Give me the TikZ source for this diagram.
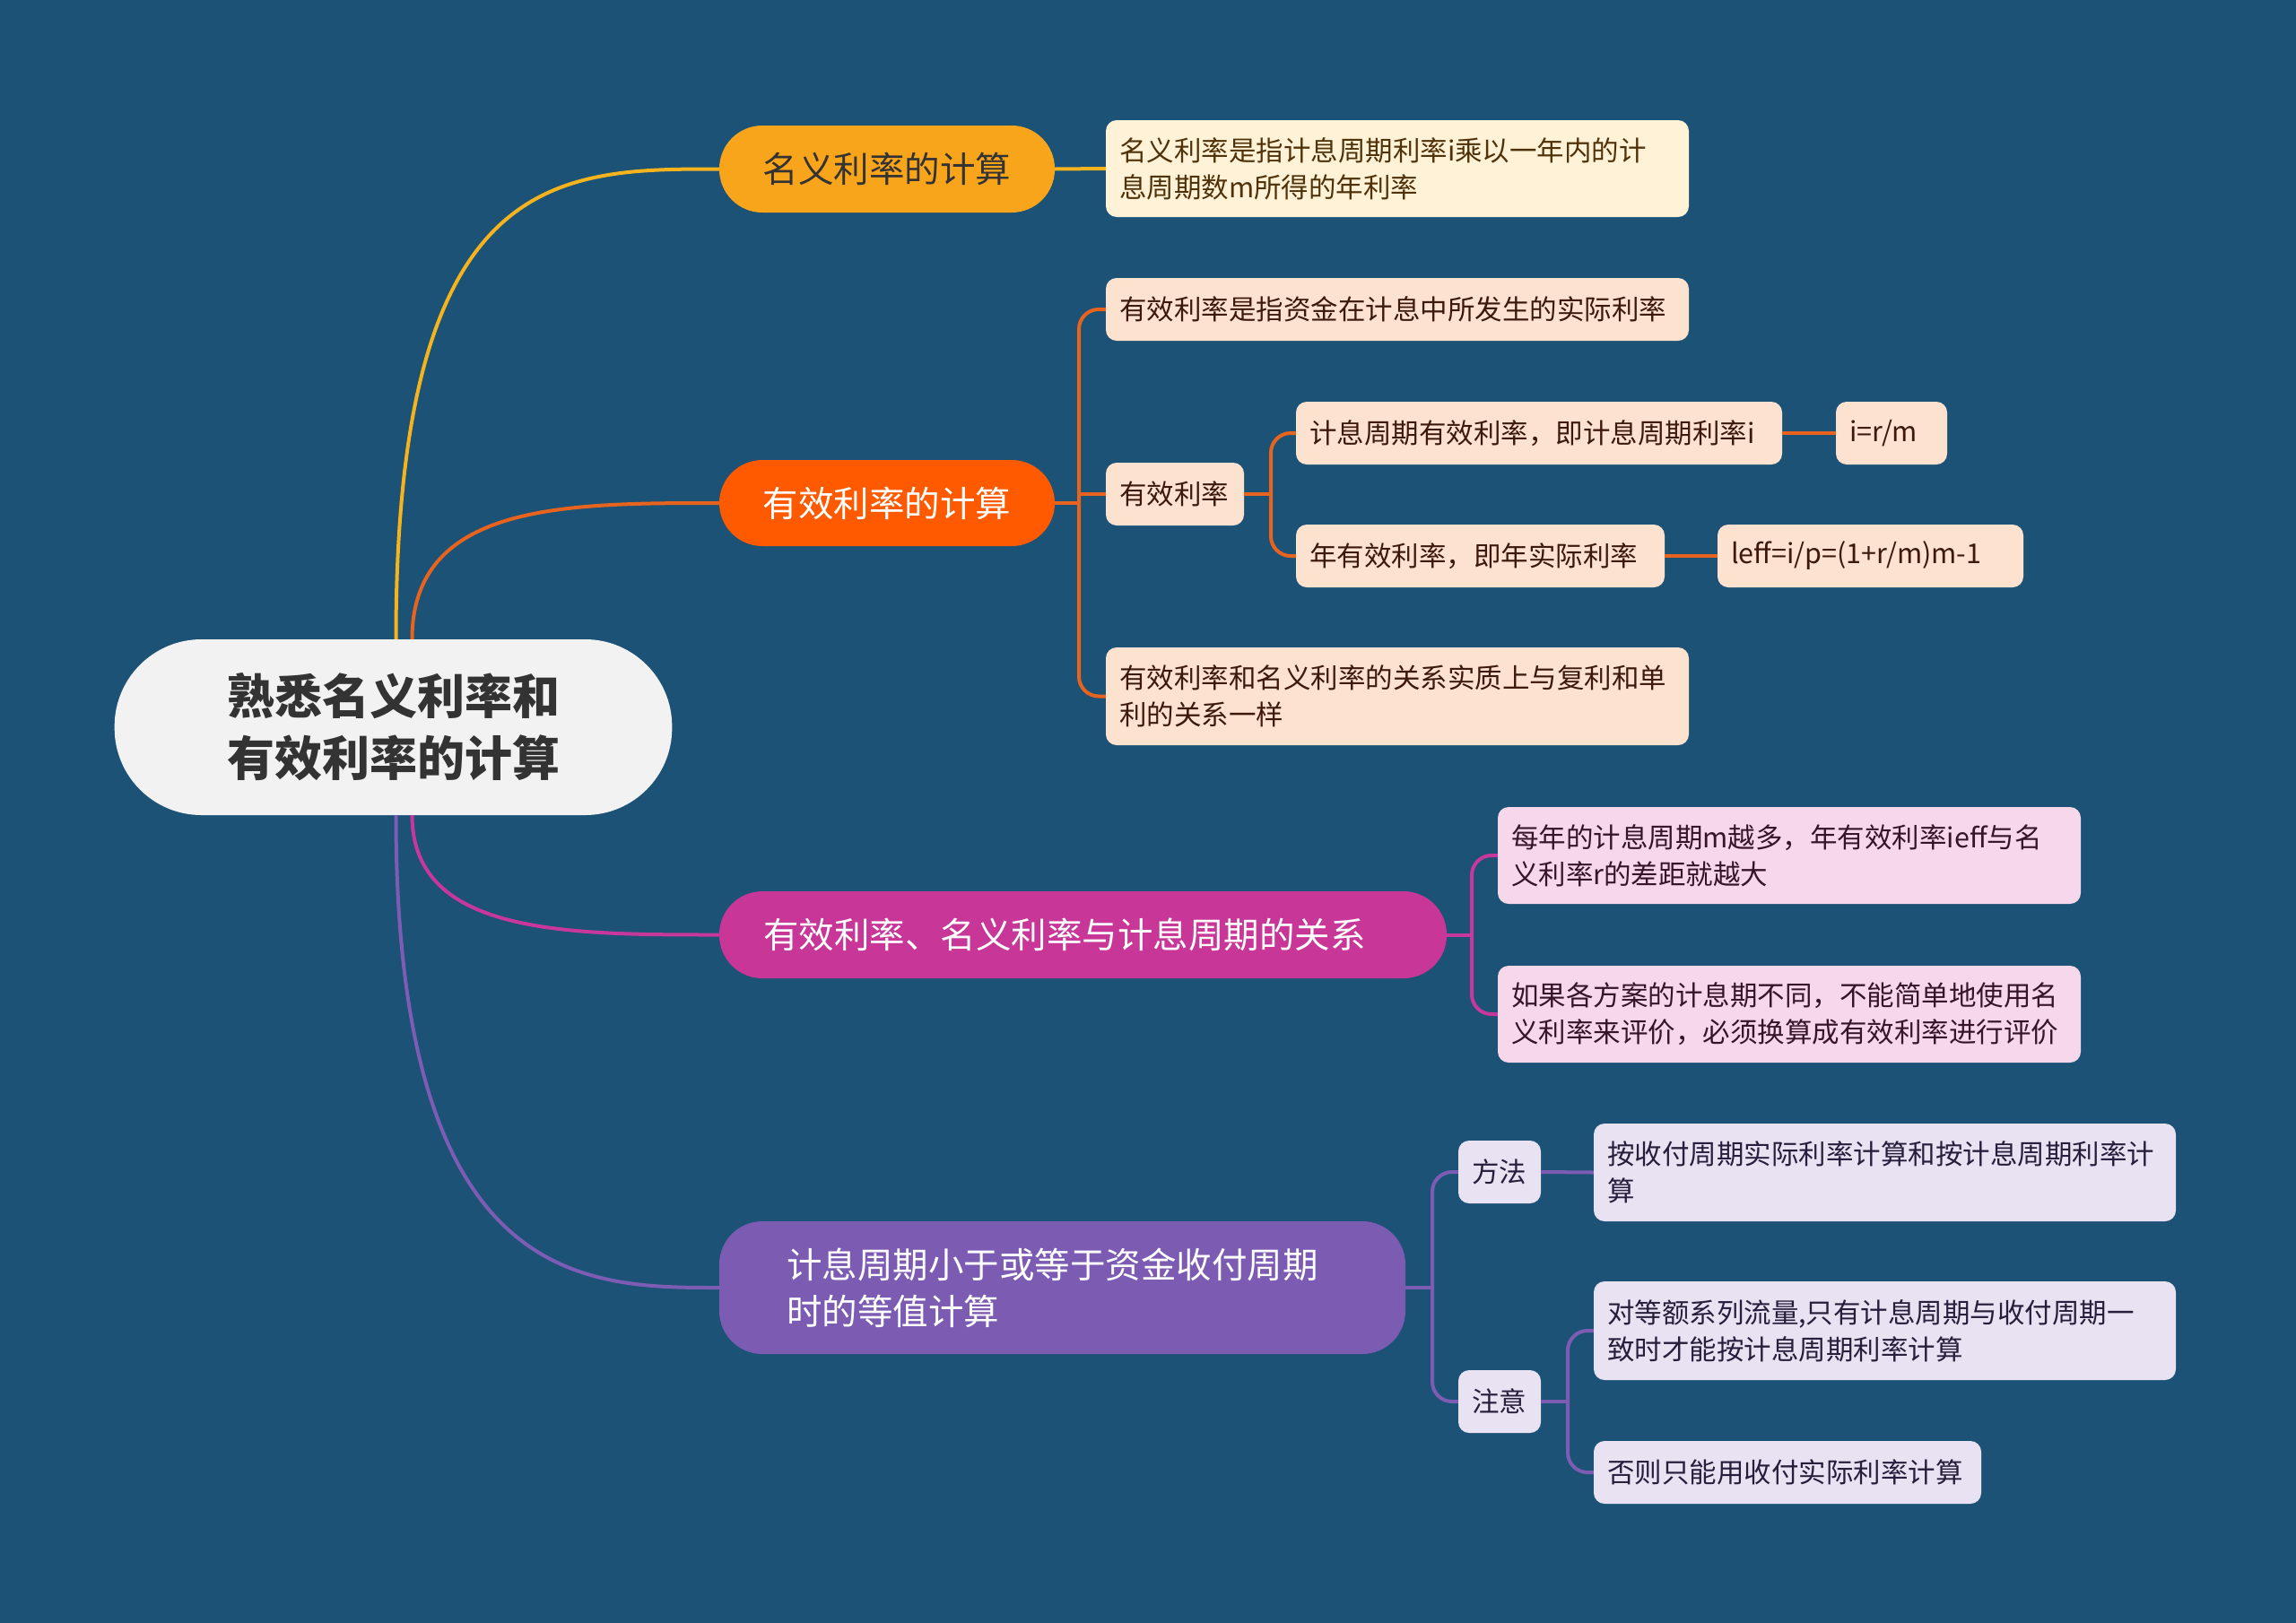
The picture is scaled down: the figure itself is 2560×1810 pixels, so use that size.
\documentclass[tikz,border=0pt]{standalone}
\usepackage{fontspec}
\setmainfont{Noto Sans CJK SC}
\definecolor{bgc}{RGB}{27,82,118}
\definecolor{rootf}{RGB}{242,242,242}
\definecolor{roott}{RGB}{51,51,51}
\definecolor{yelf}{RGB}{249,165,27}
\definecolor{yell}{RGB}{245,180,30}
\definecolor{yelc}{RGB}{255,242,214}
\definecolor{yelt}{RGB}{80,50,10}
\definecolor{orf}{RGB}{255,90,0}
\definecolor{orl}{RGB}{232,100,30}
\definecolor{orc}{RGB}{253,226,208}
\definecolor{ort}{RGB}{60,25,10}
\definecolor{mgf}{RGB}{200,54,152}
\definecolor{mgl}{RGB}{200,55,155}
\definecolor{mgc}{RGB}{246,216,234}
\definecolor{mgt}{RGB}{55,20,40}
\definecolor{puf}{RGB}{124,91,178}
\definecolor{pul}{RGB}{125,92,180}
\definecolor{puc}{RGB}{232,226,242}
\definecolor{put}{RGB}{40,30,60}
\tikzset{
  base/.style={rectangle, anchor=center, inner ysep=0pt},
  rootbox/.style={base, fill=rootf, text=roott, rounded corners=97pt, align=center,
    font=\fontsize{53}{69}\selectfont\bfseries},
  lone/.style={base, rounded corners=48pt, inner xsep=0pt, font=\fontsize{39.5}{52}\selectfont},
  ltwo/.style={base, rounded corners=12pt, inner xsep=15pt, align=left,
    font=\fontsize{30.5}{41}\selectfont},
  conn/.style={line width=4pt},
  bconn/.style={line width=4pt, rounded corners=22pt},
}
\begin{document}
\begin{tikzpicture}[x=1pt,y=-1pt]
\useasboundingbox (0,0) rectangle (2560,1810);
\fill[bgc] (0,0) rectangle (2560,1810);

% root
\node[rootbox, minimum width=615pt, minimum height=196pt, text width=615pt] (root) at (438.5,811) {熟悉名义利率和\\有效利率的计算};

% level 1
\node[lone, fill=yelf, text=roott, minimum width=374pt, minimum height=97pt, text width=374pt, align=center] (La) at (989,188.5) {名义利率的计算};
\node[lone, fill=orf, text=white, minimum width=374pt, minimum height=96pt, text width=374pt, align=center] (Lb) at (989,561) {有效利率的计算};
\node[lone, fill=mgf, text=white, minimum width=811pt, minimum height=97pt, text width=713pt, inner xsep=49pt, align=left] (Lc) at (1207.5,1042.5) {有效利率、名义利率与计息周期的关系};
\node[lone, fill=puf, text=white, minimum width=765pt, minimum height=148pt, text width=615pt, inner xsep=75pt, align=left] (Ld) at (1184.5,1436) {计息周期小于或等于资金收付周期\\时的等值计算};

% level 2 - yellow
\node[ltwo, fill=yelc, text=yelt, minimum width=650pt, minimum height=108pt, text width=620pt] (A1) at (1558,188) {名义利率是指计息周期利率i乘以一年内的计\\息周期数m所得的年利率};

% level 2 - orange
\node[ltwo, fill=orc, text=ort, minimum width=650pt, minimum height=70pt, text width=620pt] (B1) at (1558,345) {有效利率是指资金在计息中所发生的实际利率};
\node[ltwo, fill=orc, text=ort, minimum width=154pt, minimum height=70pt, text width=124pt] (B2) at (1310,551) {有效利率};
\node[ltwo, fill=orc, text=ort, minimum width=650pt, minimum height=109pt, text width=620pt] (B3) at (1558,776.5) {有效利率和名义利率的关系实质上与复利和单\\利的关系一样};
\node[ltwo, fill=orc, text=ort, minimum width=542pt, minimum height=70pt, text width=512pt] (B4) at (1716,483) {计息周期有效利率，即计息周期利率i};
\node[ltwo, fill=orc, text=ort, minimum width=124pt, minimum height=70pt, text width=94pt] (B5) at (2109,483) {i=r/m};
\node[ltwo, fill=orc, text=ort, minimum width=411pt, minimum height=70pt, text width=381pt] (B6) at (1650.5,620) {年有效利率，即年实际利率};
\node[ltwo, fill=orc, text=ort, minimum width=341pt, minimum height=70pt, text width=311pt] (B7) at (2085.5,620) {leff=i/p=(1+r/m)m-1};

% level 2 - magenta
\node[ltwo, fill=mgc, text=mgt, minimum width=650pt, minimum height=108pt, text width=620pt] (C1) at (1995,954) {每年的计息周期m越多，年有效利率ieff与名\\义利率r的差距就越大};
\node[ltwo, fill=mgc, text=mgt, minimum width=650pt, minimum height=108pt, text width=620pt] (C2) at (1995,1131) {如果各方案的计息期不同，不能简单地使用名\\义利率来评价，必须换算成有效利率进行评价};

% level 2 - purple
\node[ltwo, fill=puc, text=put, minimum width=92pt, minimum height=70pt, text width=62pt] (D1) at (1672,1307) {方法};
\node[ltwo, fill=puc, text=put, minimum width=649pt, minimum height=109pt, text width=619pt] (D2) at (2101.5,1307.5) {按收付周期实际利率计算和按计息周期利率计\\算};
\node[ltwo, fill=puc, text=put, minimum width=92pt, minimum height=70pt, text width=62pt] (D3) at (1672,1563) {注意};
\node[ltwo, fill=puc, text=put, minimum width=649pt, minimum height=110pt, text width=619pt] (D4) at (2101.5,1484) {对等额系列流量,只有计息周期与收付周期一\\致时才能按计息周期利率计算};
\node[ltwo, fill=puc, text=put, minimum width=432pt, minimum height=70pt, text width=402pt] (D5) at (1993,1642) {否则只能用收付实际利率计算};

% bracket points
\coordinate (k1) at (1203,561);
\coordinate (k2) at (1417,551);
\coordinate (k3) at (1641,1042.5);
\coordinate (k4) at (1597,1436);
\coordinate (k5) at (1748,1563);

% root connectors
\draw[conn, yell] ([xshift=3pt]root.north) .. controls +(0,-525) and +(-180,0) .. (La.west);
\draw[conn, orl] ([xshift=21pt]root.north) .. controls +(0,-152) and +(-171,0) .. (Lb.west);
\draw[conn, mgl] ([xshift=21pt]root.south) .. controls +(0,133) and +(-171,0) .. (Lc.west);
\draw[conn, pul] ([xshift=3pt]root.south) .. controls +(0,527) and +(-150,0) .. (Ld.west);

% yellow branch
\draw[conn, yell] (La.east) -- (A1.west);

% orange branch
\draw[conn, orl] (Lb.east) -- (k1);
\draw[bconn, orl] (B1.west) -| (k1) |- (B3.west);
\draw[conn, orl] (k1 |- B2.west) -- (B2.west);
\draw[conn, orl] (B2.east) -- (k2);
\draw[bconn, orl] (B4.west) -| (k2) |- (B6.west);
\draw[conn, orl] (B4.east) -- (B5.west);
\draw[conn, orl] (B6.east) -- (B7.west);

% magenta branch
\draw[conn, mgl] (Lc.east) -- (k3);
\draw[bconn, mgl] (C1.west) -| (k3) |- (C2.west);

% purple branch
\draw[conn, pul] (Ld.east) -- (k4);
\draw[bconn, pul] (D1.west) -| (k4) |- (D3.west);
\draw[conn, pul] (D1.east) -- (D2.west);
\draw[conn, pul] (D3.east) -- (k5);
\draw[bconn, pul] (D4.west) -| (k5) |- (D5.west);

% redraw nodes above connectors
\end{tikzpicture}
\end{document}
